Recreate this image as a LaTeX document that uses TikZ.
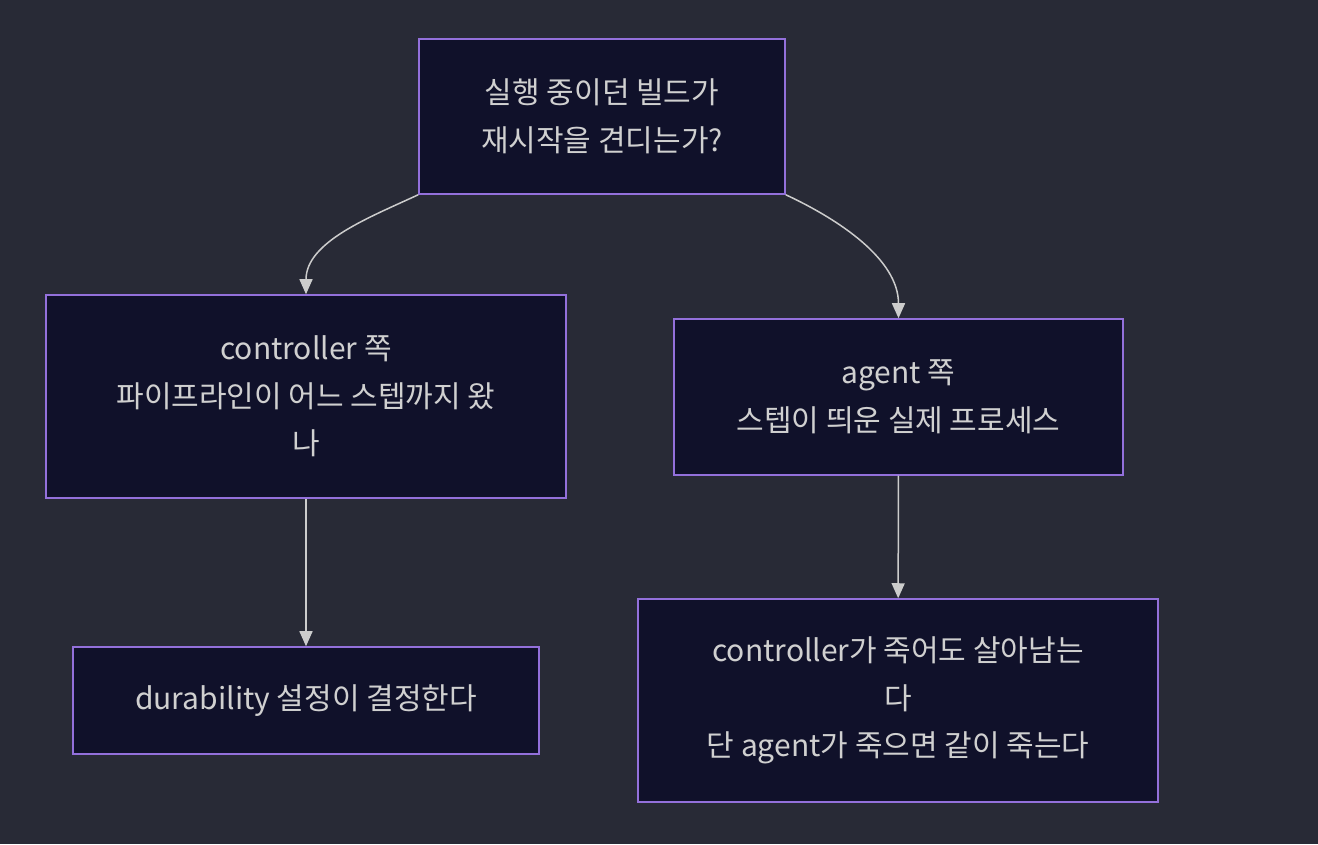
\documentclass[tikz,border=0pt]{standalone}
\usepackage{fontspec}
\setmainfont{Noto Sans CJK KR}
\usetikzlibrary{positioning, arrows.meta}
\usepackage{xcolor}
\definecolor{bgdark}{HTML}{282A36}
\definecolor{boxfill}{HTML}{10112A}
\definecolor{boxline}{HTML}{9370DB}
\definecolor{txtgray}{HTML}{D0D0D0}
\definecolor{edgegray}{HTML}{CCCCCC}

\tikzset{
    stepbox/.style={draw=boxline, fill=boxfill, line width=1.5pt, text=txtgray,
        align=center, inner sep=0pt,
        font=\fontsize{30}{47.5}\selectfont},
    flow/.style={draw=edgegray, line width=1.5pt, -{Triangle[length=15pt,width=13pt]}}
}

\begin{document}
\begin{tikzpicture}[x=1pt, y=1pt]
    % Canvas
    \fill[bgdark] (0,0) rectangle (1318,844);
    \useasboundingbox (0,0) rectangle (1318,844);

    % Question at the top
    \node[stepbox, minimum width=366pt, minimum height=155pt] (question) at (602,727.5)
        {실행 중이던 빌드가\\재시작을 견디는가?};

    % Two sides
    \node[stepbox, minimum width=520pt, minimum height=203pt] (ctrl) at (306,447.5)
        {controller 쪽\\파이프라인이 어느 스텝까지 왔\\나};
    \node[stepbox, minimum width=449pt, minimum height=156pt] (agent) at (898.5,447)
        {agent 쪽\\스텝이 띄운 실제 프로세스};

    % Outcomes
    \node[stepbox, minimum width=466pt, minimum height=107pt] (durable) at (306,143.5)
        {durability 설정이 결정한다};
    \node[stepbox, minimum width=520pt, minimum height=203pt] (survive) at (898,143.5)
        {controller가 죽어도 살아남는\\다\\단 agent가 죽으면 같이 죽는다};

    % Connectors
    \draw[flow] (question.south west) to[out=205, in=90, looseness=0.9] (ctrl.north);
    \draw[flow] (question.south east) to[out=-25, in=90, looseness=0.9] (agent.north);
    \draw[flow] (ctrl) -- (durable);
    \draw[flow] (agent) -- (survive);
\end{tikzpicture}
\end{document}
